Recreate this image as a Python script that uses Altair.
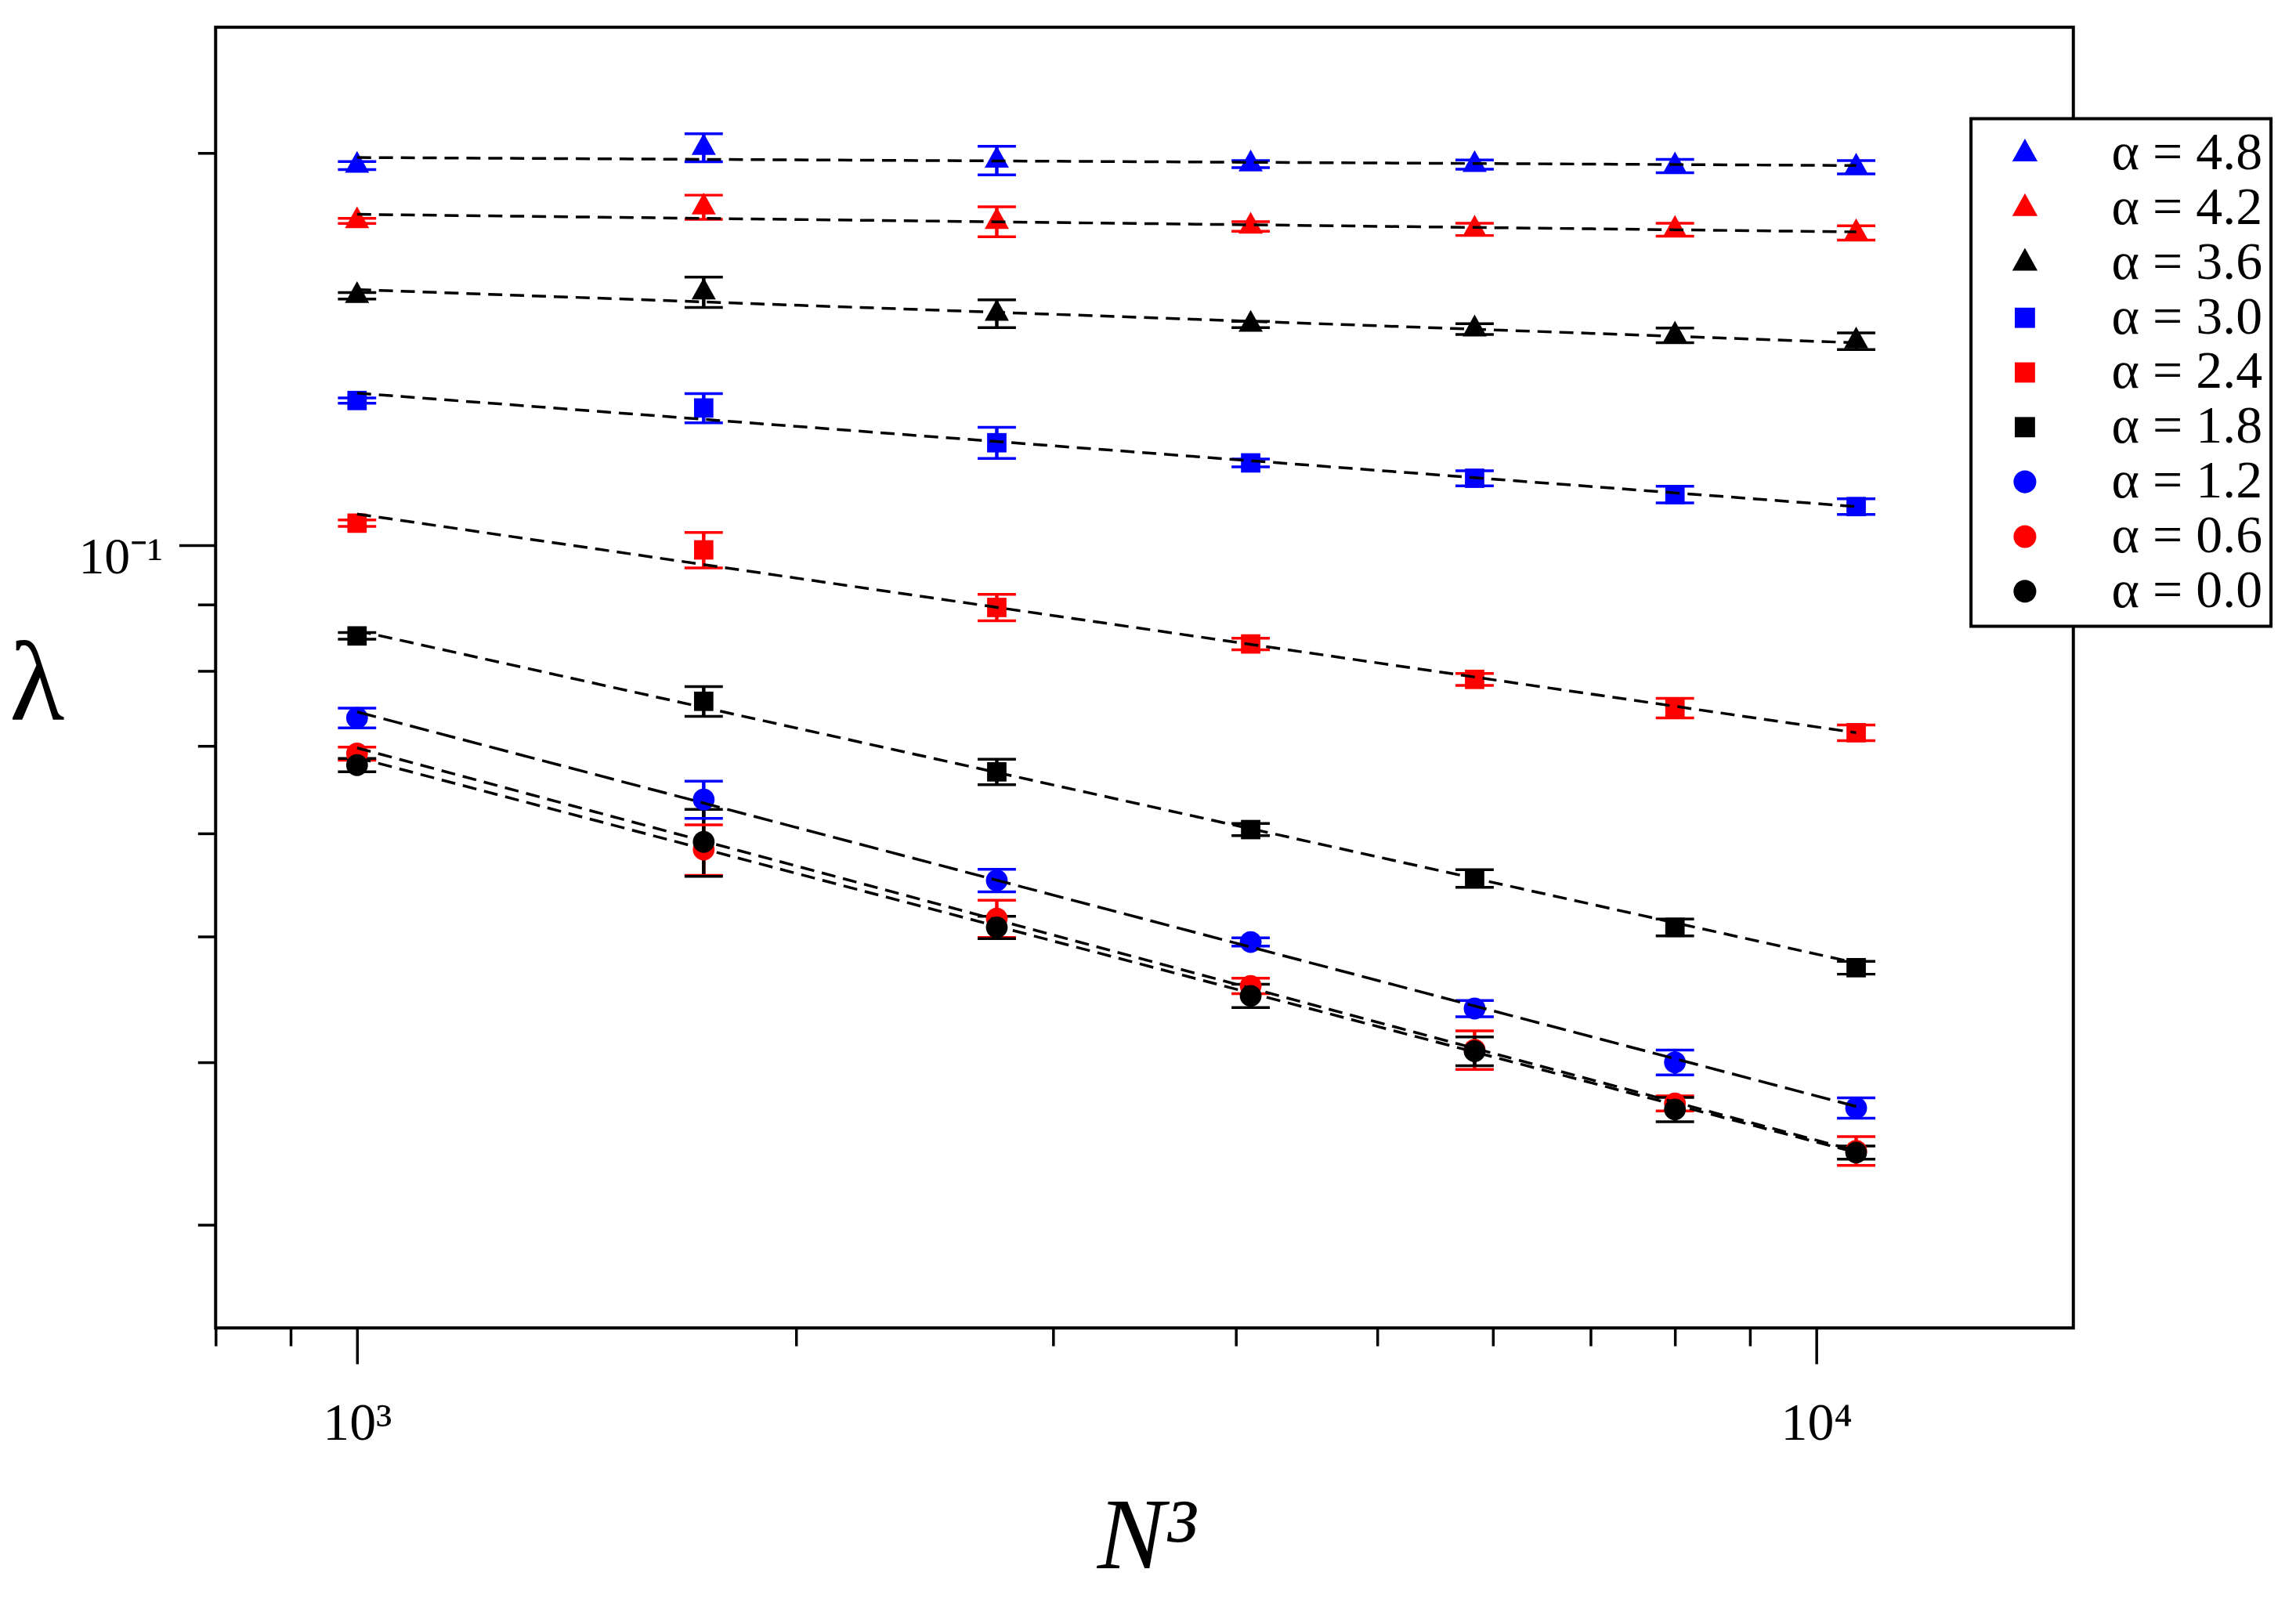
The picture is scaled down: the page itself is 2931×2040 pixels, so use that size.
import altair as alt
import pandas as pd

# ---------------- data ----------------
N3 = [1000, 1728, 2744, 4096, 5832, 8000, 10648]
ALPHAS = ["4.8", "4.2", "3.6", "3.0", "2.4", "1.8", "1.2", "0.6", "0.0"]

LAM_48 = [0.1957, 0.2020, 0.1975, 0.1962, 0.1960, 0.1955, 0.1951]
LAM_42 = [0.1774, 0.1818, 0.1772, 0.1757, 0.1748, 0.1747, 0.1737]
LAM_36 = [0.1554, 0.1564, 0.1506, 0.1477, 0.1465, 0.1449, 0.1434]
LAM_30 = [0.1291, 0.1274, 0.1198, 0.1156, 0.1125, 0.1093, 0.1070]
LAM_24 = [0.1039, 0.0991, 0.0895, 0.0839, 0.0788, 0.0749, 0.0717]
LAM_18 = [0.0851, 0.0758, 0.0669, 0.0604, 0.0554, 0.0508, 0.0473]
LAM_12 = [0.0736, 0.0637, 0.0552, 0.0495, 0.0440, 0.0400, 0.0369]
LAM_06 = [0.0691, 0.0583, 0.0516, 0.0458, 0.0409, 0.0372, 0.0342]
LAM_00 = [0.0677, 0.0591, 0.0508, 0.0450, 0.0408, 0.0368, 0.0341]

ERR_48 = [0.0014, 0.0050, 0.0050, 0.0012, 0.0016, 0.0023, 0.0023]
ERR_42 = [0.0008, 0.0039, 0.0047, 0.0015, 0.0019, 0.0020, 0.0022]
ERR_36 = [0.0009, 0.0042, 0.0037, 0.0008, 0.0014, 0.0019, 0.0021]
ERR_30 = [0.0006, 0.0033, 0.0033, 0.0008, 0.0015, 0.0016, 0.0015]
ERR_24 = [0.0006, 0.0031, 0.0021, 0.00085, 0.00084, 0.0013, 0.0010]
ERR_18 = [0.0005, 0.0020, 0.0015, 0.00065, 0.00086, 0.00076, 0.00054]
ERR_12 = [0.0013, 0.0021, 0.0011, 0.00036, 0.00063, 0.00088, 0.00066]
ERR_06 = [0.0008, 0.0026, 0.0017, 0.00063, 0.0014, 0.0005, 0.00087]
ERR_00 = [0.0008, 0.0035, 0.0010, 0.00093, 0.00104, 0.00079, 0.0004]

# dashed power-law fits: values at both ends
FIT_X = [1000, 10648]
FIT_START = [0.1985, 0.1795, 0.1571, 0.1308, 0.1056, 0.0859, 0.0744, 0.0698, 0.0686]
FIT_END = [0.1957, 0.1740, 0.1430, 0.1070, 0.0717, 0.0477, 0.0370, 0.0342, 0.0341]
FIT_DASH = ["short", "short", "short", "short", "short", "short", "long", "short", "short"]

X_MAJOR = [1000, 10000]
X_MINOR = [800, 900, 2000, 3000, 4000, 5000, 6000, 7000, 8000, 9000]
Y_MAJOR = [0.1]
Y_MINOR = [0.03, 0.04, 0.05, 0.06, 0.07, 0.08, 0.09, 0.2]

# ---------------- styles ----------------
COLORS = ["#0000ff", "#ff0000", "#000000"] * 3
TRI = "M0,-1.2L1,0.6L-1,0.6Z"
SQ = "M-0.8,-0.8L0.8,-0.8L0.8,0.8L-0.8,0.8Z"
CIR = "M-0.9,0A0.9,0.9,0,1,0,0.9,0A0.9,0.9,0,1,0,-0.9,0Z"
SHAPES = [TRI] * 3 + [SQ] * 3 + [CIR] * 3
FONT = "Liberation Serif"

LAMS = [LAM_48, LAM_42, LAM_36, LAM_30, LAM_24, LAM_18, LAM_12, LAM_06, LAM_00]
ERRS = [ERR_48, ERR_42, ERR_36, ERR_30, ERR_24, ERR_18, ERR_12, ERR_06, ERR_00]
LABELS = ["\u03b1 = " + a for a in ALPHAS]

rows = []
for lab, col, lam, err in zip(LABELS, COLORS, LAMS, ERRS):
    for x, v, e in zip(N3, lam, err):
        rows.append({"label": lab, "col": col, "x": x, "y": v, "lo": v - e, "hi": v + e})
pts = pd.DataFrame(rows)

frows = []
for lab, s, e, d in zip(LABELS, FIT_START, FIT_END, FIT_DASH):
    frows.append({"label": lab, "x": FIT_X[0], "y": s, "dash": d})
    frows.append({"label": lab, "x": FIT_X[1], "y": e, "dash": d})
fit = pd.DataFrame(frows)

xscale = alt.Scale(type="log", domain=[800, 15000], nice=False)
yscale = alt.Scale(type="log", domain=[0.025, 0.25], nice=False)
cscale = alt.Scale(domain=LABELS, range=COLORS)
sscale = alt.Scale(domain=LABELS, range=SHAPES)

x_major = alt.Axis(
    orient="bottom", values=X_MAJOR, tickSize=46, tickWidth=3.5, tickColor="black",
    domain=False, grid=False, labelFlush=False, labelOverlap=False,
    labelExpr="datum.value == 1000 ? '10\u00b3' : '10\u2074'",
    labelFont=FONT, labelFontSize=68, labelColor="black",
    labelBaseline="alphabetic", labelPadding=97,
    title="N\u00b3", titleFont=FONT, titleFontSize=130, titleFontStyle="italic",
    titleFontWeight="normal", titleColor="black", titleX=1191, titleY=307,
    titleAlign="center", titleBaseline="alphabetic",
)
x_minor = alt.Axis(
    orient="bottom", values=X_MINOR, tickSize=23, tickWidth=3.5, tickColor="black",
    domain=False, grid=False, labels=False, title=None,
)
y_major = alt.Axis(
    orient="left", values=Y_MAJOR, tickSize=47, tickWidth=3.5, tickColor="black",
    domain=False, grid=False, labelFlush=False, labelOverlap=False,
    labelExpr="'10\u207b\u00b9'", labelFont=FONT, labelFontSize=66, labelColor="black",
    labelBaseline="alphabetic", labelOffset=36, labelPadding=21,
    title="\u03bb", titleFont=FONT, titleFontSize=145, titleFontWeight="normal",
    titleColor="black", titleAngle=0, titleX=-229, titleY=885,
    titleAlign="center", titleBaseline="alphabetic",
)
y_minor = alt.Axis(
    orient="left", values=Y_MINOR, tickSize=23, tickWidth=3.5, tickColor="black",
    domain=False, grid=False, labels=False, title=None,
)

legend = alt.Legend(
    orient="none", legendX=2247, legendY=117, title=None,
    labelFont=FONT, labelFontSize=68, labelColor="black", labelLimit=600,
    symbolSize=1050, symbolStrokeWidth=0, symbolOffset=24, labelOffset=77,
    padding=11, rowPadding=2, strokeColor="black", fillColor="white",
)

rules = alt.Chart(pts).mark_rule(strokeWidth=4.5).encode(
    x=alt.X("x:Q", scale=xscale, axis=x_minor),
    y=alt.Y("lo:Q", scale=yscale, axis=y_minor),
    y2="hi:Q",
    color=alt.Color("col:N", scale=None),
)
caps_lo = alt.Chart(pts).mark_tick(orient="horizontal", size=49, thickness=3.5, opacity=1).encode(
    x=alt.X("x:Q", scale=xscale, axis=None),
    y=alt.Y("lo:Q", scale=yscale, axis=None),
    color=alt.Color("col:N", scale=None),
)
caps_hi = alt.Chart(pts).mark_tick(orient="horizontal", size=49, thickness=3.5, opacity=1).encode(
    x=alt.X("x:Q", scale=xscale, axis=None),
    y=alt.Y("hi:Q", scale=yscale, axis=None),
    color=alt.Color("col:N", scale=None),
)
points = alt.Chart(pts).mark_point(filled=True, size=961, opacity=1, strokeWidth=0).encode(
    x=alt.X("x:Q", scale=xscale, axis=x_major),
    y=alt.Y("y:Q", scale=yscale, axis=y_major),
    color=alt.Color("label:N", scale=cscale, legend=legend),
    shape=alt.Shape("label:N", scale=sscale, legend=legend),
)
lines = alt.Chart(fit).mark_line(color="black", strokeWidth=3.5).encode(
    x=alt.X("x:Q", scale=xscale, axis=None),
    y=alt.Y("y:Q", scale=yscale, axis=None),
    detail="label:N",
    strokeDash=alt.StrokeDash(
        "dash:N", scale=alt.Scale(domain=["short", "long"], range=[[18, 10], [25, 10]]), legend=None
    ),
)

chart = (
    alt.layer(rules, caps_lo, caps_hi, points, lines)
    .resolve_axis(x="independent", y="independent")
    .properties(
        width=2378, height=1665,
        autosize=alt.AutoSizeParams(type="none"),
        padding={"left": 268, "top": 24, "right": 277, "bottom": 343},
        background="white",
    )
    .configure(font=FONT)
    .configure_view(stroke="black", strokeWidth=4)
    .configure_legend(strokeWidth=4)
)

chart.save("out.html", embed_options={"renderer": "svg", "actions": False})
